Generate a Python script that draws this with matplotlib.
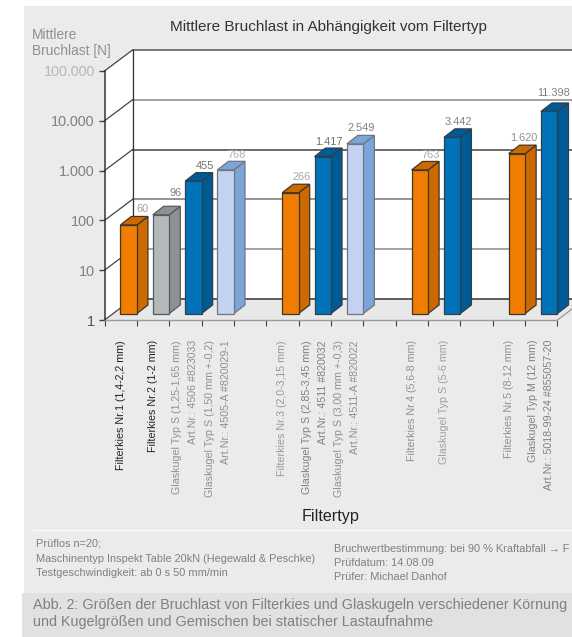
import numpy as np
import matplotlib
matplotlib.use('Agg')
from matplotlib import pyplot as plt
from matplotlib.patches import Polygon, Rectangle
from matplotlib.transforms import Affine2D, IdentityTransform

plt.rcParams['font.family'] = ['Liberation Sans', 'DejaVu Sans']

# one entry per slot on the x axis, empty slots separate the groups
categories = ['Filterkies Nr.1 (1,4-2,2 mm)',
              'Filterkies Nr.2 (1-2 mm)',
              'Glaskugel Typ S (1,25-1,65 mm)\nArt.Nr.: 4506 #823033',
              'Glaskugel Typ S (1,50 mm +-0,2)\nArt.Nr.: 4505-A #820029-1',
              '',
              'Filterkies Nr.3 (2,0-3,15 mm)',
              'Glaskugel Typ S (2,85-3,45 mm)\nArt.Nr.: 4511 #820032',
              'Glaskugel Typ S (3,00 mm +-0,3)\nArt.Nr.: 4511-A #820022',
              '',
              'Filterkies Nr.4 (5,6-8 mm)',
              'Glaskugel Typ S (5-6 mm)',
              '',
              'Filterkies Nr.5 (8-12 mm)',
              'Glaskugel Typ M (12 mm)\nArt.Nr.: 5018-99-24 #855057-20']
values = [60, 96, 455, 768, None, 266, 1417, 2549, None, 763, 3442, None, 1620, 11398]
value_labels = ['60', '96', '455', '768', '', '266', '1.417', '2.549', '', '763', '3.442', '', '1.620', '11.398']
kinds = ['kies', 'grau', 'blau', 'hell', '', 'kies', 'blau', 'hell', '', 'kies', 'blau', '', 'kies', 'blau']
y_ticks = [1, 10, 100, 1000, 10000, 100000]
y_tick_labels = ['1', '10', '100', '1.000', '10.000', '100.000']
y_tick_colors = ['#555555', '#808080', '#808080', '#808080', '#808080', '#b8b8b8']
cat_colors = ['#222222', '#222222', '#909090', '#909090', '#909090',
              '#999999', '#808080', '#909090', '#909090', '#909090',
              '#a0a0a0', '#909090', '#909090', '#808080']
value_colors = ['#a0a0a0', '#808080', '#707070', '#b0b0b0', '#808080', '#a8a8a8', '#707070',
                '#808080', '#808080', '#a8a8a8', '#808080', '#808080', '#909090', '#808080']

face = {'kies': '#f07d00', 'grau': '#b3b8ba', 'blau': '#0072b8', 'hell': '#c2d2f0'}
shade = {'kies': '#cc6a00', 'grau': '#8e9294', 'blau': '#005a94', 'hell': '#7ba5da'}
edge = {'kies': '#40352a', 'grau': '#555a5c', 'blau': '#2f3f4c', 'hell': '#70757f'}

W, H = 572, 637
fig = plt.figure(figsize=(W / 100, H / 100), dpi=100, facecolor='white')

# backdrop in pixel coordinates
bg = fig.add_axes([0, 0, 1, 1], zorder=0)
bg.set_xlim(0, W)
bg.set_ylim(H, 0)
bg.axis('off')
bg.add_patch(Rectangle((24, 6), W - 24, 587, fc='#ebebeb', ec='none'))
bg.add_patch(Rectangle((22, 593), W - 22, 44, fc='#dfe2e1', ec='none'))
bg.plot([33, W], [530, 530], color='#fafafa', lw=1)

# front plane of the chart
x0, slot, y_bottom, y_top = 104.5, 32.35, 320, 71
ax = fig.add_axes([x0 / W, (H - y_bottom) / H, (W - x0) / W, (y_bottom - y_top) / H], zorder=1)
ax.patch.set_visible(False)
ax.set_yscale('log')
ax.set_xlim(0, (W - x0) / slot)
ax.set_ylim(1, 100000)
for s in ['top', 'right']:
    ax.spines[s].set_visible(False)
ax.spines['left'].set_color('#333333')
ax.spines['left'].set_linewidth(1.1)
ax.spines['bottom'].set_color('#999999')
ax.spines['bottom'].set_linewidth(1.0)
ax.spines['bottom'].set_bounds(0, len(categories))

ax.set_yticks(y_ticks, y_tick_labels, fontsize=10.4)
ax.minorticks_off()
ax.tick_params(axis='y', length=4.5, width=1, color='#444444', pad=2.5)
for lab, c in zip(ax.get_yticklabels(), y_tick_colors):
    lab.set_color(c)

ax.set_xticks(np.arange(len(categories) + 1), [''] * (len(categories) + 1))
ax.tick_params(axis='x', length=4.5, width=0.8, color='#444444')
ax.set_xticks(np.arange(len(categories)) + 0.5, categories, minor=True, rotation=90,
              va='top', ha='center', multialignment='right', fontsize=7.7, linespacing=1.75)
ax.tick_params(axis='x', which='minor', length=0, pad=14.4)
for lab, c in zip(ax.get_xticklabels(minor=True), cat_colors):
    lab.set_color(c)


def to_px(x, y, dx=0, dy=0):
    # data point to display pixels, shifted into the depth of the chart
    return ax.transData.transform((x, y)) + np.array([dx, dy])


def poly(points, **kw):
    p = Polygon(points, closed=True, transform=IdentityTransform(), clip_on=False, **kw)
    ax.add_patch(p)


fig.canvas.draw()

# walls and floor
wall_dx, wall_dy = 28, 21
xmax = ax.get_xlim()[1]
poly([to_px(0, 1), to_px(0, 100000), to_px(0, 100000, wall_dx, wall_dy), to_px(0, 1, wall_dx, wall_dy)],
     fc='white', ec='none', zorder=1)
poly([to_px(0, 100000, wall_dx, wall_dy), to_px(xmax, 100000, wall_dx, wall_dy),
      to_px(xmax, 1, wall_dx, wall_dy), to_px(0, 1, wall_dx, wall_dy)], fc='white', ec='none', zorder=1)
n = len(categories)
poly([to_px(0, 1), to_px(0, 1, wall_dx, wall_dy), to_px(xmax, 1, wall_dx, wall_dy),
      to_px(xmax, 1, 0, 11), to_px(n, 1)], fc='#e8e8e8', ec='none', zorder=1.2)
back = ax.transData + Affine2D().translate(wall_dx, wall_dy)
grid_colors = ['#333333', '#8a8a8a', '#777777', '#444444', '#888888', '#555555']
for t, c in zip(y_ticks, grid_colors):
    ax.plot([0, xmax], [t, t], color=c, lw=1.1, transform=back, clip_on=False, zorder=1.5)
    a, b = to_px(0, t), to_px(0, t, wall_dx, wall_dy)
    ax.plot([a[0], b[0]], [a[1], b[1]], color='#444444', lw=0.9, transform=IdentityTransform(),
            clip_on=False, zorder=1.5)
ax.plot([0, 0], [1, 100000], color='#333333', lw=0.9, transform=back, clip_on=False, zorder=1.5)
a, b = to_px(n, 1), to_px(xmax, 1, 0, 11)
ax.plot([a[0], b[0]], [a[1], b[1]], color='#999999', lw=0.9, transform=IdentityTransform(),
        clip_on=False, zorder=1.5)

# bars, the front face goes through the log axis, sides follow it in depth
bar_w = 0.51
plane_dx, plane_dy = 8, 6.5
side_dx, side_dy = 11, 8.5
label_lift = [7, 13, 7, 6, 0, 7, 6, 7, 0, 6, 7, 0, 7, 10]
front = ax.transData + Affine2D().translate(plane_dx, plane_dy)
for i, v in enumerate(values):
    if v is None:
        continue
    k = kinds[i]
    left, right = i + 0.5 - bar_w / 2, i + 0.5 + bar_w / 2
    lw = 0.9
    poly([to_px(right, 1, plane_dx, plane_dy), to_px(right, v, plane_dx, plane_dy),
          to_px(right, v, plane_dx + side_dx, plane_dy + side_dy),
          to_px(right, 1, plane_dx + side_dx, plane_dy + side_dy)],
         fc=shade[k], ec=edge[k], lw=lw, zorder=2)
    poly([to_px(left, v, plane_dx, plane_dy), to_px(right, v, plane_dx, plane_dy),
          to_px(right, v, plane_dx + side_dx, plane_dy + side_dy),
          to_px(left, v, plane_dx + side_dx, plane_dy + side_dy)],
         fc=shade[k], ec=edge[k], lw=lw, zorder=2)
    ax.bar(i + 0.5, v - 1, bar_w, bottom=1, color=face[k], edgecolor=edge[k], linewidth=lw,
           transform=front, clip_on=False, zorder=2.1)
    p = to_px(right, v, plane_dx + side_dx, plane_dy + side_dy + label_lift[i])
    ax.text(p[0] + 1, p[1], value_labels[i], transform=IdentityTransform(), ha='right', va='center',
            fontsize=7.9, color=value_colors[i], zorder=3, clip_on=False)

ax.set_ylim(1, 100000)
ax.set_xlim(0, xmax)

# text around the chart
bg.text(328.5, 26.5, 'Mittlere Bruchlast in Abhängigkeit vom Filtertyp', ha='center', va='center',
        fontsize=10.95, color='#333333')
bg.text(32, 35, 'Mittlere', ha='left', va='center', fontsize=9.9, color='#909090')
bg.text(32, 51, 'Bruchlast [N]', ha='left', va='center', fontsize=9.9, color='#909090')
bg.text(331, 517, 'Filtertyp', ha='center', va='center', fontsize=11.6, color='#222222')

note = dict(ha='left', va='center', fontsize=7.95, color='#808080')
bg.text(36, 544, 'Prüflos n=20;', **note)
bg.text(36, 559, 'Maschinentyp Inspekt Table 20kN (Hegewald & Peschke)', **note)
bg.text(36, 573, 'Testgeschwindigkeit: ab 0 s 50 mm/min', **note)
bg.text(334, 549, 'Bruchwertbestimmung: bei 90 % Kraftabfall → F', **note)
bg.text(334, 563, 'Prüfdatum: 14.08.09', **note)
bg.text(334, 577, 'Prüfer: Michael Danhof', **note)
bg.text(33, 605, 'Abb. 2: Größen der Bruchlast von Filterkies und Glaskugeln verschiedener Körnung',
        ha='left', va='center', fontsize=10.4, color='#808080')
bg.text(33, 622, 'und Kugelgrößen und Gemischen bei statischer Lastaufnahme', ha='left', va='center',
        fontsize=10.4, color='#808080')

fig.savefig('out.png', dpi=100)
